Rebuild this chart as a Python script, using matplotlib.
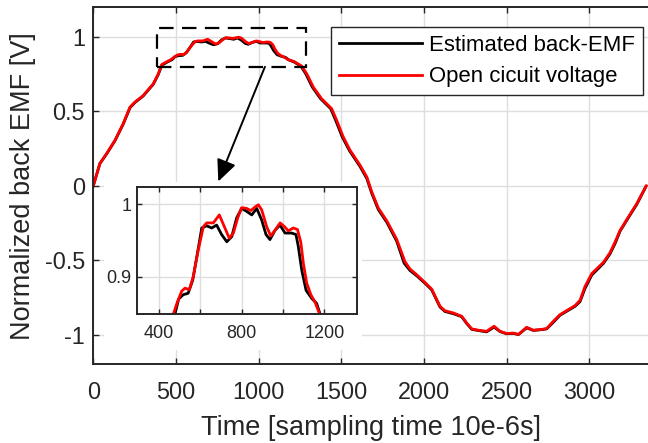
import matplotlib
matplotlib.use("Agg")
import matplotlib.pyplot as plt
from matplotlib.patches import Rectangle

plt.rcParams['font.family'] = ['Liberation Sans', 'DejaVu Sans']
plt.rcParams['axes.unicode_minus'] = False

# ---- data ----
t_est = [0, 40, 81, 131, 181, 222, 252, 302, 363, 393, 414, 454, 477, 495, 517, 541,
         563, 586, 607, 631, 655, 679, 703, 728, 752, 776, 800, 824, 849, 873, 897,
         918, 937, 962, 986, 1010, 1042, 1063, 1074, 1091, 1112, 1139, 1163, 1180,
         1215, 1255, 1285, 1325, 1375, 1436, 1466, 1506, 1550, 1613, 1654, 1684,
         1724, 1775, 1835, 1880, 1916, 1956, 2006, 2047, 2097, 2127, 2178, 2228,
         2258, 2289, 2329, 2379, 2424, 2460, 2500, 2540, 2571, 2621, 2661, 2702,
         2742, 2782, 2823, 2914, 2944, 2974, 3015, 3085, 3125, 3155, 3186, 3236,
         3287, 3340]
v_est = [0.0, 0.15, 0.215, 0.303, 0.415, 0.525, 0.560, 0.604, 0.683, 0.748, 0.810,
         0.836, 0.848, 0.869, 0.875, 0.877, 0.895, 0.932, 0.967, 0.970, 0.967, 0.971,
         0.958, 0.948, 0.955, 0.981, 0.994, 0.990, 0.985, 0.994, 0.978, 0.958, 0.951,
         0.964, 0.971, 0.960, 0.960, 0.958, 0.942, 0.909, 0.881, 0.870, 0.863, 0.848,
         0.832, 0.805, 0.753, 0.663, 0.585, 0.518, 0.440, 0.328, 0.235, 0.130, 0.050,
         -0.050, -0.160, -0.245, -0.372, -0.520, -0.570, -0.605, -0.655, -0.700,
         -0.815, -0.845, -0.860, -0.880, -0.925, -0.965, -0.973, -0.982, -0.950,
         -0.980, -0.995, -0.992, -1.000, -0.955, -0.972, -0.968, -0.962, -0.918,
         -0.870, -0.810, -0.778, -0.690, -0.600, -0.522, -0.458, -0.390, -0.305,
         -0.215, -0.125, -0.010]

t_ocv = [0, 40, 81, 131, 181, 222, 252, 302, 363, 393, 414, 454, 469, 489, 510, 526,
         547, 566, 590, 615, 631, 663, 692, 719, 740, 760, 781, 800, 824, 845, 865,
         881, 897, 921, 941, 962, 986, 1007, 1026, 1050, 1070, 1086, 1099, 1115,
         1135, 1155, 1178, 1215, 1260, 1291, 1331, 1381, 1442, 1472, 1512, 1553,
         1613, 1654, 1684, 1724, 1775, 1835, 1885, 1916, 1956, 2006, 2047, 2097,
         2127, 2178, 2228, 2258, 2289, 2329, 2379, 2424, 2460, 2500, 2540, 2571,
         2621, 2661, 2702, 2742, 2782, 2823, 2914, 2944, 2974, 3015, 3085, 3125,
         3155, 3186, 3236, 3287, 3345]
v_ocv = [0.0, 0.15, 0.217, 0.306, 0.418, 0.529, 0.563, 0.607, 0.686, 0.753, 0.815,
         0.840, 0.848, 0.865, 0.880, 0.884, 0.882, 0.900, 0.937, 0.969, 0.974, 0.974,
         0.985, 0.967, 0.953, 0.960, 0.981, 0.995, 0.994, 0.991, 0.996, 0.999, 0.992,
         0.969, 0.956, 0.964, 0.974, 0.969, 0.963, 0.967, 0.965, 0.948, 0.918, 0.891,
         0.875, 0.865, 0.848, 0.835, 0.805, 0.753, 0.663, 0.585, 0.518, 0.440, 0.328,
         0.239, 0.139, 0.060, -0.040, -0.150, -0.235, -0.360, -0.510, -0.560, -0.598,
         -0.650, -0.695, -0.810, -0.840, -0.855, -0.877, -0.922, -0.962, -0.971,
         -0.978, -0.944, -0.978, -0.993, -0.990, -1.000, -0.951, -0.971, -0.967,
         -0.960, -0.911, -0.866, -0.805, -0.770, -0.677, -0.590, -0.515, -0.450,
         -0.380, -0.300, -0.210, -0.120, 0.0]

labels = ['Estimated back-EMF', 'Open cicuit voltage']
x_ticks = [0, 500, 1000, 1500, 2000, 2500, 3000]
y_ticks = [-1, -0.5, 0, 0.5, 1]
y_ticklabels = ['-1', '-0.5', '0', '0.5', '1']
inset_xticks = [400, 600, 800, 1000, 1200]
inset_xticklabels = ['400', '', '800', '', '1200']
inset_yticks = [0.9, 1.0]
inset_yticklabels = ['0.9', '1']
zoom_box = (387, 0.799, 1286, 1.063)   # x0, y0, x1, y1
arrow_from = (1038, 0.80)
arrow_to = (756, 0.029)

TXT = '#262626'
W, H = 648, 443
fig = plt.figure(figsize=(W / 100, H / 100), dpi=100)

def fx(px):
    return px / W

def fy(py):
    return 1 - py / H

ax = fig.add_axes([fx(93.3), fy(364.3), fx(648 - 93.3), (364.3 - 7.3) / H])
ax.plot(t_est, v_est, color='black', lw=2.0, label=labels[0], zorder=2)
ax.plot(t_ocv, v_ocv, color='red', lw=2.0, label=labels[1], zorder=2.1)
ax.set_xlim(0, 3355)
ax.set_ylim(-1.2, 1.2)
ax.set_xticks(x_ticks)
ax.set_xticklabels([str(v) for v in x_ticks])
ax.set_yticks(y_ticks)
ax.set_yticklabels(y_ticklabels)
ax.grid(True, color='#dedede', lw=1.0)
ax.set_axisbelow(True)
for s in ['left', 'bottom', 'top']:
    ax.spines[s].set_color(TXT)
    ax.spines[s].set_linewidth(1.4)
ax.spines['right'].set_visible(False)
ax.tick_params(axis='both', which='major', direction='in', length=4.5, width=1.0,
               colors=TXT, labelsize=16.8, top=True, right=False)
ax.tick_params(axis='x', pad=12)
ax.tick_params(axis='y', pad=6)
ax.set_xlabel('Time [sampling time 10e-6s]', fontsize=19.5, color=TXT, labelpad=8)
ax.set_ylabel('Normalized back EMF [V]', fontsize=19.5, color=TXT, labelpad=6)

# dashed zoom rectangle
x0, y0, x1, y1 = zoom_box
ax.add_patch(Rectangle((x0, y0), x1 - x0, y1 - y0, fill=False, ec='black', lw=1.6,
                       ls=(0, (6.5, 3.8)), zorder=4))

# white backdrop behind inset
ax.add_patch(Rectangle((fx(104), fy(350)), fx(361.7) - fx(104), fy(181.7) - fy(350),
                       transform=fig.transFigure, fc='white', ec='none', zorder=3,
                       clip_on=False))

# arrow
ax.annotate('', xy=arrow_to, xytext=arrow_from,
            arrowprops=dict(arrowstyle='-|>,head_length=0.55,head_width=0.25',
                            mutation_scale=24, color='black', lw=1.4,
                            shrinkA=0, shrinkB=0), zorder=5)

leg = fig.legend(loc='upper left', bbox_to_anchor=(fx(331), fy(27)),
                 bbox_transform=fig.transFigure, fontsize=15.9, handlelength=3.75,
                 handletextpad=0.32, borderpad=0.36, labelspacing=0.47,
                 fancybox=False, framealpha=1, edgecolor=TXT, borderaxespad=0)
leg.get_frame().set_linewidth(1.0)
for txt in leg.get_texts():
    txt.set_color('black')

# inset
axi = fig.add_axes([fx(136.7), fy(314), fx(356.7) - fx(136.7), (314 - 187) / H])
axi.set_zorder(10)
axi.plot(t_est, v_est, color='black', lw=2.0, zorder=2)
axi.plot(t_ocv, v_ocv, color='red', lw=2.0, zorder=2.1)
axi.set_xlim(292, 1357)
axi.set_ylim(0.8484, 1.0235)
axi.set_xticks(inset_xticks)
axi.set_xticklabels(inset_xticklabels)
axi.set_yticks(inset_yticks)
axi.set_yticklabels(inset_yticklabels)
axi.grid(True, color='#dedede', lw=1.0)
axi.set_axisbelow(True)
for s in axi.spines.values():
    s.set_color(TXT)
    s.set_linewidth(1.4)
axi.tick_params(axis='both', direction='in', length=3.5, width=1.0, colors=TXT,
                labelsize=13, top=True, right=True)
axi.tick_params(axis='x', pad=8)
axi.tick_params(axis='y', pad=4)

fig.savefig('out.png', dpi=100)
